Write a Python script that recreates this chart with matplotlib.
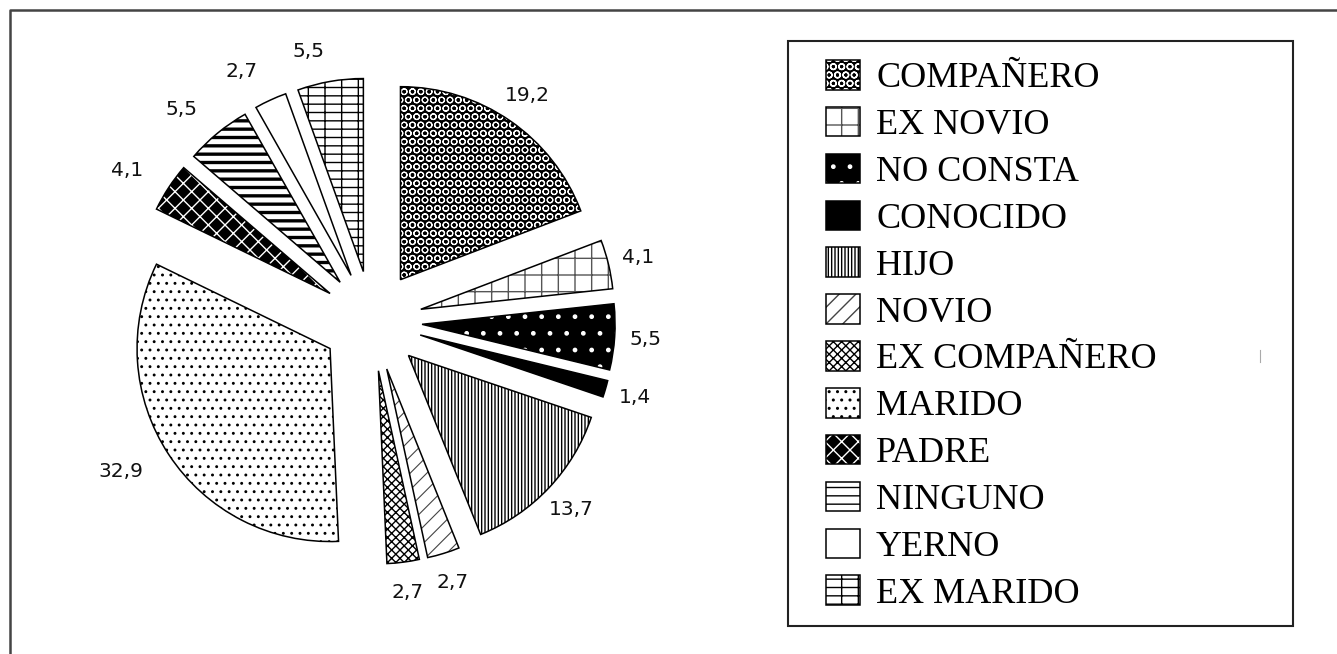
import matplotlib
matplotlib.use("Agg")
import matplotlib.pyplot as plt
from matplotlib.patches import Rectangle
from matplotlib.lines import Line2D
from matplotlib.legend_handler import HandlerTuple

# ---- data ----
categories = ["COMPAÑERO", "EX NOVIO", "NO CONSTA", "CONOCIDO", "HIJO", "NOVIO",
              "EX COMPAÑERO", "MARIDO", "PADRE", "NINGUNO", "YERNO", "EX MARIDO"]
values = [19.2, 4.1, 5.5, 1.4, 13.7, 2.7, 2.7, 32.9, 4.1, 5.5, 2.7, 5.5]
value_labels = [f"{v:.1f}".replace(".", ",") for v in values]

# ---- styles ----
faces = ["black", "white", "black", "black", "white", "white",
         "white", "white", "black", "white", "white", "white"]
hatch_colors = ["white", "#555555", "white", "black", "black", "#444444",
                "black", "black", "white", "black", "black", "black"]
hatches = ["OO", "+", ".", "", "|||||", "//", "xxxx", "..", "xx", "--", "", "+-"]
hatch_lws = [0.8, 1.0, 1.0, 1.0, 1.0, 0.8, 1.0, 0.9, 1.0, 2.4, 1.0, 1.0]

plt.rcParams["hatch.linewidth"] = 1.0

W, H = 1337, 654
fig = plt.figure(figsize=(W / 100, H / 100), dpi=100)
fig.patch.set_facecolor("white")

R = 193.0        # pixel radius
cx, cy = 372.0, 321.0   # pixel centre
axw = 740
ax = fig.add_axes([0, 0, axw / W, 1])

explode = [0.26] * len(values)

fill_wedges, _ = ax.pie(values, explode=explode, startangle=90, counterclock=False,
                        colors=faces, hatch=hatches,
                        wedgeprops=dict(linewidth=0))
for w, hc, hl in zip(fill_wedges, hatch_colors, hatch_lws):
    w.set_edgecolor(hc)
    w.set_linewidth(0)
    if hasattr(w, "set_hatch_linewidth"):
        w.set_hatch_linewidth(hl)

outline_wedges, texts = ax.pie(values, explode=explode, startangle=90, counterclock=False,
                               labels=value_labels, labeldistance=1.16,
                               textprops=dict(fontsize=14.5, family="DejaVu Sans", color="#111111"),
                               wedgeprops=dict(facecolor="none", edgecolor="black", linewidth=1.1))
for t in texts:
    x, y = t.get_position()
    if x > 0:
        t.set_horizontalalignment("center")
    t.set_verticalalignment("center")

ax.set_aspect("auto")
ax.set_xlim(-cx / R, (axw - cx) / R)
ax.set_ylim(-(H - cy) / R, cy / R)
ax.axis("off")

# ---- legend ----
handles = [(f, o) for f, o in zip(fill_wedges, outline_wedges)]
fs = 26
fpx = fs * 100 / 72
leg = fig.legend(handles, categories, loc="upper left",
                 bbox_to_anchor=(826 / W, 1 - 60 / H),
                 frameon=False, borderpad=0, borderaxespad=0,
                 handlelength=34 / fpx, handleheight=32 / fpx,
                 handletextpad=16 / fpx, labelspacing=0.32,
                 prop=dict(family="Liberation Serif", size=fs),
                 handler_map={tuple: HandlerTuple(ndivide=1, pad=0)})

fig.add_artist(Rectangle((788 / W, 1 - 626 / H), (1293 - 788) / W, (626 - 41) / H,
                         transform=fig.transFigure, fill=False, edgecolor="#222222", linewidth=1.5))

# outer frame (partly cropped)
fig.add_artist(Line2D([10 / W, 10 / W, 1.0], [0.0, 1 - 10 / H, 1 - 10 / H],
                      transform=fig.transFigure, color="#444444", linewidth=1.8))
fig.add_artist(Line2D([1260 / W, 1260 / W], [1 - 350 / H, 1 - 362 / H],
                      transform=fig.transFigure, color="#aaaaaa", linewidth=0.8))

fig.savefig("out.png", dpi=100, facecolor="white")
